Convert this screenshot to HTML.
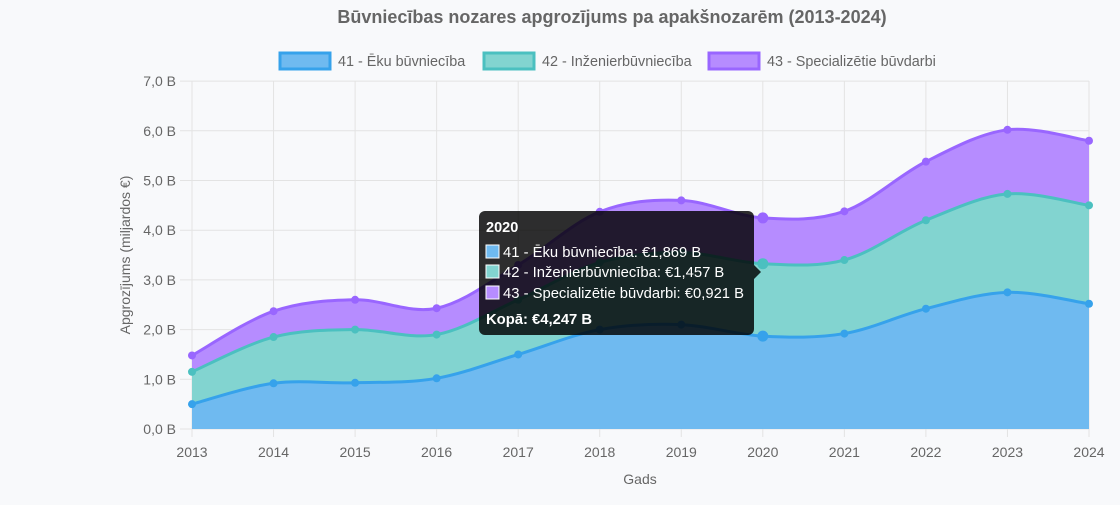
<!DOCTYPE html><html><head><meta charset="utf-8"><style>
body{margin:0;background:#f8f9fb;font-family:"Liberation Sans",sans-serif}
</style></head><body>
<svg id="s" width="1120" height="500" xmlns="http://www.w3.org/2000/svg" font-family="Liberation Sans, sans-serif">
<text x="612" y="23" text-anchor="middle" font-size="18" font-weight="bold" fill="#666">Būvniecības nozares apgrozījums pa apakšnozarēm (2013-2024)</text>
<rect x="280" y="53" width="50" height="16" fill="#6fbaf0" stroke="#36a2eb" stroke-width="3"/>
<text x="338" y="66" font-size="14.4" fill="#666">41 - Ēku būvniecība</text>
<rect x="484" y="53" width="50" height="16" fill="#82d4d0" stroke="#4bc0c0" stroke-width="3"/>
<text x="542" y="66" font-size="14.4" fill="#666">42 - Inženierbūvniecība</text>
<rect x="709" y="53" width="50" height="16" fill="#b68cff" stroke="#9966ff" stroke-width="3"/>
<text x="767" y="66" font-size="14.4" fill="#666">43 - Specializētie būvdarbi</text>
<g id="g"></g>
<text transform="translate(130,255) rotate(-90)" text-anchor="middle" font-size="14" fill="#666">Apgrozījums (miljardos €)</text>
<text x="640" y="484" text-anchor="middle" font-size="14" fill="#666">Gads</text>
<g>
<rect x="479" y="211" width="275" height="124" rx="6" fill="#000" fill-opacity="0.82"/>
<path d="M754 265 L761 272 L754 279Z" fill="#000" fill-opacity="0.82"/>
<text x="486" y="232" font-size="14.5" font-weight="bold" fill="#fff">2020</text>
<rect x="486" y="245" width="13" height="13" fill="#6fbaf0" stroke="#fff" stroke-width="1"/>
<text x="503" y="257" font-size="14.8" fill="#fff">41 - Ēku būvniecība: €1,869 B</text>
<rect x="486" y="265" width="13" height="13" fill="#82d4d0" stroke="#fff" stroke-width="1"/>
<text x="503" y="277" font-size="14.8" fill="#fff">42 - Inženierbūvniecība: €1,457 B</text>
<rect x="486" y="286" width="13" height="13" fill="#b68cff" stroke="#fff" stroke-width="1"/>
<text x="503" y="298" font-size="14.8" fill="#fff">43 - Specializētie būvdarbi: €0,921 B</text>
<text x="486" y="324" font-size="14.8" font-weight="bold" fill="#fff">Kopā: €4,247 B</text>
</g>
</svg>
<script>
var g=document.getElementById('g'),h='';
var X0=192,X1=1089,Y0=429,K=49.7;
function X(i){return X0+(X1-X0)*i/11}function Y(v){return Y0-v*K}
for(var i=0;i<=7;i++){var y=Y(i);h+='<line x1="180" x2="1089" y1="'+y+'" y2="'+y+'" stroke="#e3e3e3"/>';
h+='<text x="176" y="'+(y+5)+'" text-anchor="end" font-size="14" fill="#666">'+i+',0 B</text>';}
for(var i=0;i<12;i++){var x=X(i);h+='<line x1="'+x+'" x2="'+x+'" y1="81" y2="437" stroke="#e3e3e3"/>';
h+='<text x="'+x+'" y="457" text-anchor="middle" font-size="14" fill="#666">'+(2013+i)+'</text>';}
var a=[0.5,0.92,0.93,1.02,1.5,2.0,2.1,1.869,1.92,2.42,2.75,2.52];
var b=[1.15,1.85,2.0,1.9,2.6,3.35,3.55,3.326,3.4,4.2,4.73,4.5];
var c=[1.48,2.37,2.6,2.43,3.3,4.37,4.6,4.247,4.38,5.38,6.02,5.8];
function path(v){var p=v.map(function(t,i){return[X(i),Y(t)]});var d='M'+p[0][0]+' '+p[0][1];
for(var i=0;i<p.length-1;i++){var p0=p[i-1]||p[i],p1=p[i],p2=p[i+1],p3=p[i+2]||p2,t=0.4/2;
d+=' C'+(p1[0]+(p2[0]-p0[0])*t/1.2)+' '+(p1[1]+(p2[1]-p0[1])*t/1.2)+' '+(p2[0]-(p3[0]-p1[0])*t/1.2)+' '+(p2[1]-(p3[1]-p1[1])*t/1.2)+' '+p2[0]+' '+p2[1];}return d;}
var S=[[c,'#b68cff','#9966ff'],[b,'#82d4d0','#4bc0c0'],[a,'#6fbaf0','#36a2eb']];
S.forEach(function(s){var d=path(s[0]);h+='<path d="'+d+' L'+X1+' '+Y0+' L'+X0+' '+Y0+'Z" fill="'+s[1]+'"/>';});
S.forEach(function(s){h+='<path d="'+path(s[0])+'" fill="none" stroke="'+s[2]+'" stroke-width="3"/>';
s[0].forEach(function(v,i){h+='<circle cx="'+X(i)+'" cy="'+Y(v)+'" r="'+(i==7?5.5:4)+'" fill="'+s[2]+'"/>';});});
g.innerHTML=h;
</script>
</body></html>
